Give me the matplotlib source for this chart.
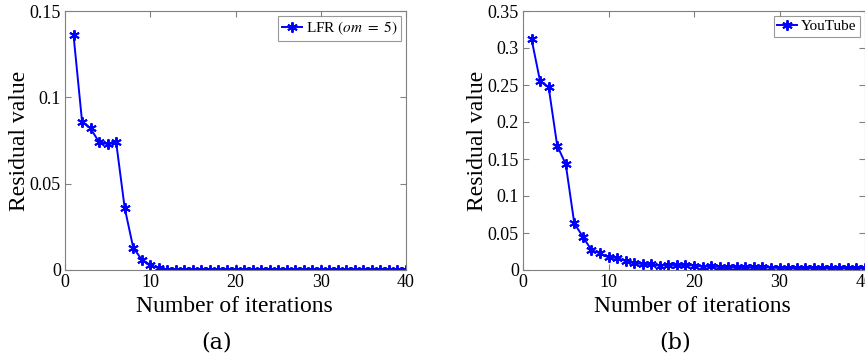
import matplotlib
matplotlib.use("Agg")
import matplotlib.pyplot as plt
import numpy as np

# Data
iters = list(range(1, 41))
lfr_residual = [0.136, 0.086, 0.082, 0.074, 0.073, 0.074, 0.036, 0.013, 0.006, 0.003,
                0.001] + [0.0] * 29
youtube_residual = [0.312, 0.255, 0.247, 0.168, 0.143, 0.063, 0.045, 0.027, 0.0225, 0.017,
                    0.0165, 0.012, 0.0099, 0.0078, 0.0078, 0.006, 0.0068, 0.0068, 0.0068, 0.006,
                    0.0045, 0.005, 0.004, 0.004, 0.004, 0.0036, 0.004, 0.0036, 0.0032, 0.0027,
                    0.0027, 0.0027, 0.0027, 0.0027, 0.0027, 0.0027, 0.0027, 0.0027, 0.0027, 0.0027]
lfr_yticks = [0, 0.05, 0.1, 0.15]
lfr_yticklabels = ["0", "0.05", "0.1", "0.15"]
yt_yticks = [0, 0.05, 0.1, 0.15, 0.2, 0.25, 0.3, 0.35]
yt_yticklabels = ["0", "0.05", "0.1", "0.15", "0.2", "0.25", "0.3", "0.35"]
xticks = [0, 10, 20, 30, 40]
xticklabels = ["0", "10", "20", "30", "40"]

plt.rcParams['font.family'] = ['Liberation Serif', 'DejaVu Serif']
plt.rcParams['mathtext.fontset'] = 'stix'

fig = plt.figure(figsize=(8.65, 3.56), dpi=100)
W, H = 865, 356

def make_ax(x0, x1, y0, y1):
    return fig.add_axes([x0 / W, 1 - y1 / H, (x1 - x0) / W, (y1 - y0) / H])

axA = make_ax(65, 406, 11, 270)
axB = make_ax(523, 865, 11, 270)

asterisk = (6, 2, 0)
specs = [
    (axA, lfr_residual, r'LFR $(\mathit{om\ =\ 5)}$', lfr_yticks, lfr_yticklabels, 0.15),
    (axB, youtube_residual, 'YouTube', yt_yticks, yt_yticklabels, 0.35),
]
for ax, vals, lab, yt, ytl, ymax in specs:
    ax.plot(iters, vals, color='#0000ff', lw=1.4, marker=asterisk, ms=7.5, mew=1.4,
            label=lab)
    ax.set_xlim(0, 40)
    ax.set_ylim(0, ymax)
    ax.set_xticks(xticks)
    ax.set_xticklabels(xticklabels)
    ax.set_yticks(yt)
    ax.set_yticklabels(ytl)
    ax.tick_params(direction='in', top=True, right=True, labelsize=13,
                   length=4, color='#808080', pad=3)
    for s in ax.spines.values():
        s.set_color('#808080')
        s.set_linewidth(0.8)
    ax.set_ylabel('Residual value', fontsize=17)
    ax.set_xlabel('Number of iterations', fontsize=17)
    ax.yaxis.set_label_coords(-0.103, 0.5)
    ax.xaxis.set_label_coords(0.496, -0.102)
    leg = ax.legend(loc='upper right', fontsize=11, frameon=True, fancybox=False,
                    borderpad=0.25, handlelength=1.3, handletextpad=0.25,
                    borderaxespad=0.3)
    leg.get_frame().set_edgecolor('#808080')
    leg.get_frame().set_linewidth(0.8)

fig.text(217 / W, 1 - 342 / H, '(a)', fontsize=16, ha='center', va='center',
         family='DejaVu Serif')
fig.text(675 / W, 1 - 342 / H, '(b)', fontsize=16, ha='center', va='center',
         family='DejaVu Serif')

fig.savefig('out.png', dpi=100)
